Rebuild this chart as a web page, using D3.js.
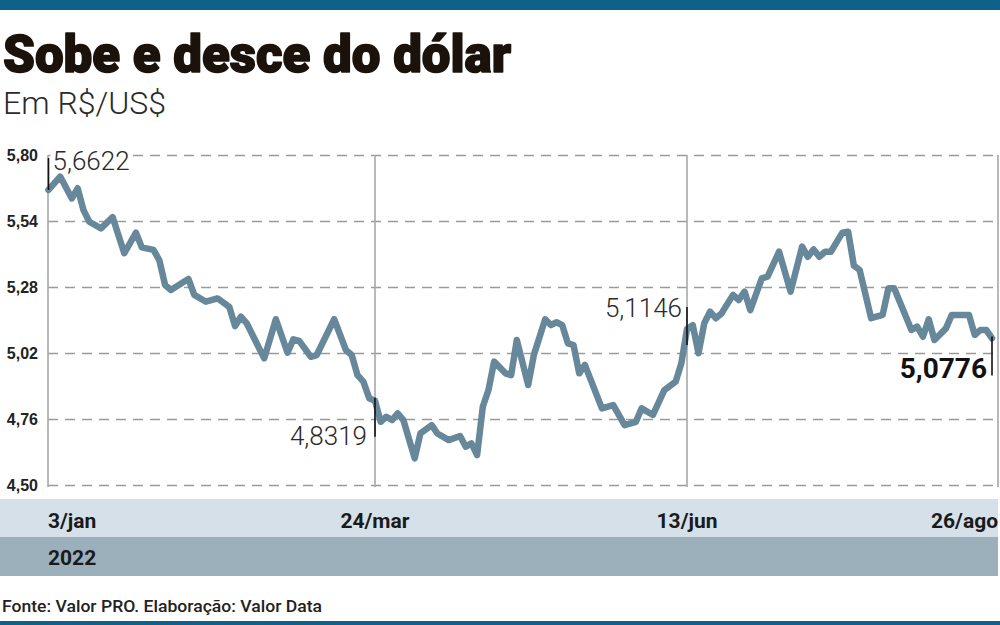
<!DOCTYPE html>
<html>
<head>
<meta charset="utf-8">
<script src="https://cdn.jsdelivr.net/npm/d3@7"></script>
<style>
  body { margin: 0; background: #fff; }
  svg { display: block; }
</style>
</head>
<body>
<div id="grafico"></div>
<script>
// cotacao do dolar em 2022 (sessao = pregao desde 3/jan)
var sessao = [0, 2, 4, 5, 6, 7, 9, 11, 13, 15, 16, 18, 19, 20, 21, 24, 25, 27, 29,
  31, 32, 33, 34, 37, 39, 41, 42, 43, 45, 46, 49, 51, 52, 53, 54, 55, 56,
  57, 58, 59, 60, 61, 63, 64, 66, 67, 69, 71, 72, 73, 74, 75, 76, 77, 79, 80,
  81, 83, 84, 86, 87, 88, 89, 90, 91, 92, 93, 96, 98, 100, 102, 103, 105, 107,
  109, 110, 111, 112, 113, 114, 115, 116, 117, 119, 120, 121, 122, 124, 125,
  127, 129, 131, 132, 133, 134, 135, 136, 138, 139, 140, 141, 143, 145, 146,
  147, 150, 151, 152, 153, 154, 156, 157, 160, 161, 162, 163, 164];
var cotacao = [5.6622, 5.715, 5.629, 5.669, 5.583, 5.537, 5.511, 5.555, 5.413, 5.494,
  5.436, 5.426, 5.386, 5.288, 5.268, 5.312, 5.249, 5.222, 5.235,
  5.202, 5.126, 5.163, 5.137, 4.999, 5.153, 5.021, 5.074, 5.068, 5.005, 5.012,
  5.153, 5.032, 5.012, 4.933, 4.907, 4.842, 4.8319,
  4.749, 4.769, 4.756, 4.782, 4.756, 4.605, 4.703, 4.736, 4.703, 4.677, 4.693,
  4.651, 4.664, 4.618, 4.808, 4.874, 4.986, 4.940, 4.933,
  5.071, 4.894, 5.012, 5.153, 5.130, 5.141, 5.130, 5.058, 5.051, 4.940, 4.973,
  4.802, 4.815, 4.736, 4.749, 4.802, 4.776, 4.874,
  4.907, 4.979, 5.1146, 5.130, 5.019, 5.137, 5.183, 5.157, 5.176, 5.249, 5.229,
  5.262, 5.189, 5.314, 5.321,
  5.419, 5.262, 5.439, 5.399, 5.428, 5.399, 5.419, 5.419, 5.494, 5.498, 5.364,
  5.347, 5.157, 5.170, 5.275,
  5.275, 5.111, 5.124, 5.084, 5.153, 5.071, 5.117, 5.170, 5.170, 5.091, 5.111,
  5.111, 5.0776];

// eixo y
var yTicks = [4.50, 4.76, 5.02, 5.28, 5.54, 5.80];

// datas marcadas no eixo x
var dataRotulo = ["3/jan", "24/mar", "13/jun", "26/ago"];
var dataSessao = [0, 56, 111, 164];
var ano = "2022";

// valores destacados
var destaqueSessao = [0, 56, 111, 164];
var destaqueValor = [5.6622, 4.8319, 5.1146, 5.0776];

var azul = "#0f6189",
    corLinha = "#67889a";

var W = 1000, H = 625;
var plot = {left: 48, right: 998, top: 155, bottom: 485};

var br = d3.formatLocale({decimal: ",", thousands: ".", grouping: [3], currency: ["R$", ""]});
var fmt2 = br.format(".2f"),
    fmt4 = br.format(".4f");

// escala x por trechos, para que as datas caiam nas linhas verticais
var x = d3.scaleLinear()
    .domain(dataSessao)
    .range([plot.left + 0.5, 375, 687, 992]);
var y = d3.scaleLinear()
    .domain([4.50, 5.80])
    .range([plot.bottom, plot.top]);

var svg = d3.select("#grafico").append("svg")
    .attr("width", W)
    .attr("height", H)
    .style("font-family", "Roboto, 'Open Sans', sans-serif");

// faixas azuis de cima e de baixo
svg.append("rect").attr("x", 0).attr("y", 0).attr("width", W).attr("height", 10).attr("fill", azul);
svg.append("rect").attr("x", 0).attr("y", 621).attr("width", W).attr("height", 4).attr("fill", azul);

// titulo (contorno para ficar mais pesado)
svg.append("text")
    .attr("x", 3).attr("y", 72)
    .attr("textLength", 508).attr("lengthAdjust", "spacingAndGlyphs")
    .style("font-size", "52px").style("font-weight", 900)
    .style("fill", "#1b120c")
    .style("stroke", "#1b120c").style("stroke-width", 1.6)
    .style("stroke-linejoin", "round")
    .text("Sobe e desce do dólar");
svg.append("text")
    .attr("x", 3).attr("y", 114)
    .style("font-size", "32px").style("font-weight", 300)
    .style("fill", "#2a2a2a")
    .text("Em R$/US$");

// grade horizontal tracejada
var yAxis = d3.axisLeft(y)
    .tickValues(yTicks)
    .tickSize(-(plot.right - plot.left))
    .tickPadding(10)
    .tickFormat(fmt2);

var gy = svg.append("g")
    .attr("class", "yAxis")
    .attr("transform", "translate(" + plot.left + ",0)")
    .call(yAxis);
gy.select(".domain").remove();
gy.selectAll(".tick line")
    .attr("stroke", "#9a9a9a")
    .attr("stroke-width", 1.6)
    .attr("stroke-dasharray", "10,7");
gy.selectAll(".tick text")
    .style("font-size", "16px").style("font-weight", 700)
    .style("fill", "#222");

// linhas verticais: eixo, datas e borda direita
var verticais = [plot.left, x(56), x(111), plot.right];
svg.append("g").selectAll("line")
    .data(verticais)
  .enter().append("line")
    .attr("x1", function(d) { return d; })
    .attr("x2", function(d) { return d; })
    .attr("y1", plot.top)
    .attr("y2", plot.bottom + 2)
    .attr("stroke", "#a8a8a8")
    .attr("stroke-width", 1.6);

// faixas de datas
svg.append("rect").attr("x", 0).attr("y", 499).attr("width", plot.right).attr("height", 38).attr("fill", "#d6e0e8");
svg.append("rect").attr("x", 0).attr("y", 537).attr("width", plot.right).attr("height", 39).attr("fill", "#9bb0ba");

svg.append("g").selectAll("text")
    .data(dataRotulo)
  .enter().append("text")
    .attr("x", function(d, i) {
      if (i == 0) return plot.left;
      if (i == dataRotulo.length - 1) return plot.right;
      return x(dataSessao[i]);
    })
    .attr("y", 528)
    .attr("text-anchor", function(d, i) {
      if (i == 0) return "start";
      if (i == dataRotulo.length - 1) return "end";
      return "middle";
    })
    .style("font-size", "21px").style("font-weight", 700)
    .style("fill", "#1a1a1a")
    .text(function(d) { return d; });

svg.append("text")
    .attr("x", plot.left).attr("y", 565)
    .style("font-size", "21px").style("font-weight", 700)
    .style("fill", "#1a1a1a")
    .text(ano);

// fonte
svg.append("text")
    .attr("x", 2).attr("y", 612)
    .attr("textLength", 320).attr("lengthAdjust", "spacingAndGlyphs")
    .style("font-size", "17px").style("font-weight", 500)
    .style("fill", "#222")
    .text("Fonte: Valor PRO. Elaboração: Valor Data");

// rotulos dos destaques (com fundo branco cobrindo a grade)
var pos = [
  {dx: 4, y: 170, anchor: "start", bold: false, t1: -32, t2: 0},
  {dx: -8, y: 445, anchor: "end", bold: false, t1: -3, t2: 36},
  {dx: -5, y: 317, anchor: "end", bold: false, t1: -22, t2: 16},
  {dx: -5, y: 378, anchor: "end", bold: true, t1: -2, t2: 37}
];

var gDest = svg.append("g");
destaqueSessao.forEach(function(s, i) {
  var p = pos[i];
  var px = x(s);
  var bg = gDest.append("rect").attr("fill", "#fff");
  var t = gDest.append("text")
      .attr("x", px + p.dx).attr("y", p.y)
      .attr("text-anchor", p.anchor)
      .style("font-size", p.bold ? "28px" : "26px")
      .style("font-weight", p.bold ? 700 : 300)
      .style("fill", p.bold ? "#111" : "#2a2a2a")
      .text(fmt4(destaqueValor[i]));
  var b = t.node().getBBox();
  bg.attr("x", b.x - 2).attr("y", b.y + 4).attr("width", b.width + 4).attr("height", b.height - 6);
});

// linha da cotacao
var line = d3.line()
    .x(function(d, i) { return x(sessao[i]); })
    .y(function(d) { return y(d); })
    .curve(d3.curveLinear);

svg.append("path")
    .datum(cotacao)
    .attr("fill", "none")
    .attr("stroke", corLinha)
    .attr("stroke-width", 6.5)
    .attr("stroke-linejoin", "round")
    .attr("stroke-linecap", "round")
    .attr("d", line);

// tracinhos pretos dos destaques
destaqueSessao.forEach(function(s, i) {
  var p = pos[i];
  var py = y(destaqueValor[i]);
  svg.append("line")
      .attr("x1", x(s))
      .attr("x2", x(s))
      .attr("y1", py + p.t1)
      .attr("y2", py + p.t2)
      .attr("stroke", "#111")
      .attr("stroke-width", 1.6);
});
</script>
</body>
</html>
